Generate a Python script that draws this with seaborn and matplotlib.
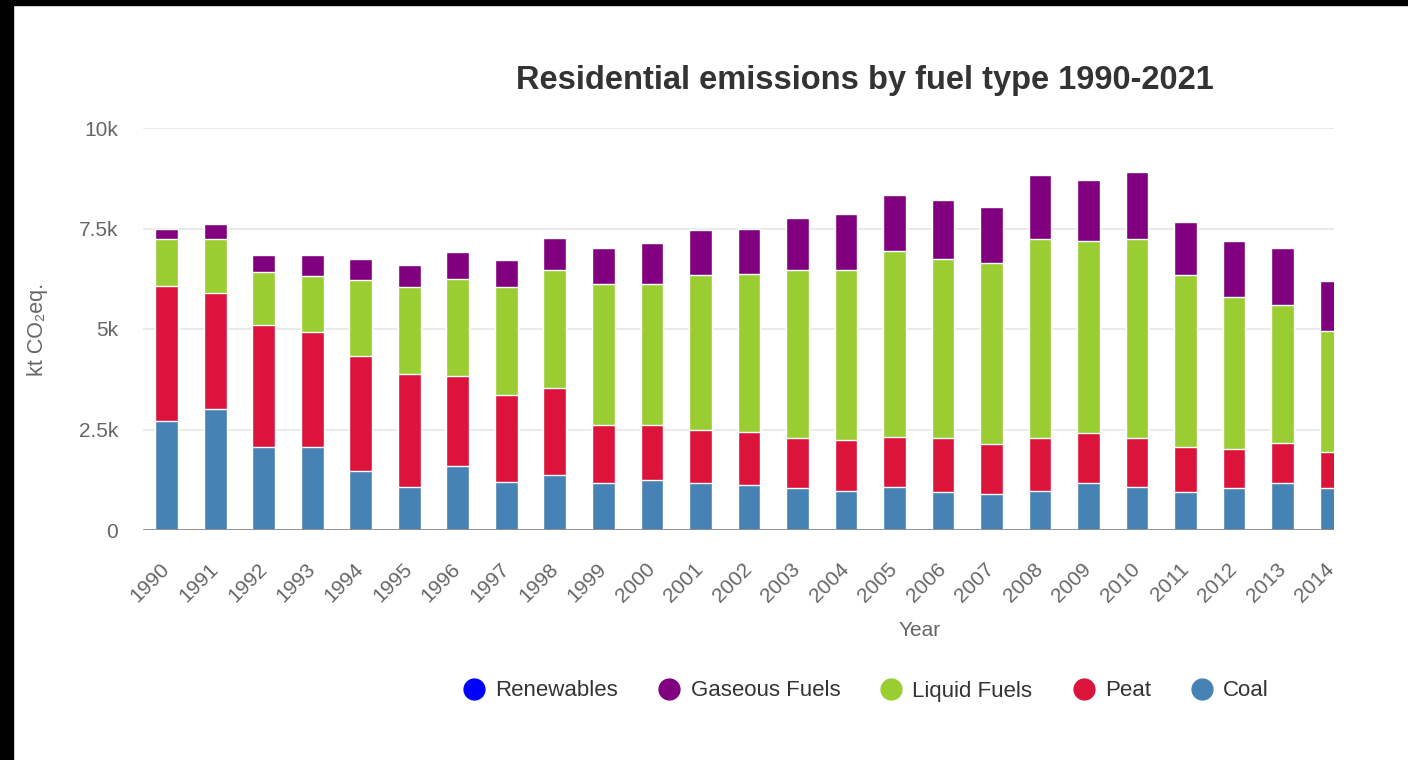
import numpy as np
import pandas as pd
import matplotlib
matplotlib.use("Agg")
import matplotlib.pyplot as plt
import seaborn as sns
from matplotlib.lines import Line2D
from matplotlib.patches import Rectangle

# =========================
# Data (kt CO2eq.)
# =========================
years = [str(y) for y in range(1990, 2015)]
coal = [2710, 3020, 2060, 2060, 1470, 1080, 1600, 1200, 1380, 1160, 1240, 1160, 1110,
        1040, 980, 1080, 940, 900, 980, 1160, 1080, 950, 1040, 1160, 1040]
peat = [3360, 2880, 3030, 2860, 2850, 2800, 2230, 2160, 2140, 1460, 1380, 1330, 1340,
        1240, 1260, 1240, 1340, 1240, 1300, 1260, 1200, 1120, 980, 1000, 910]
liquid = [1170, 1340, 1340, 1410, 1900, 2160, 2420, 2680, 2950, 3510, 3510, 3850, 3930,
          4190, 4230, 4630, 4450, 4510, 4960, 4780, 4960, 4270, 3770, 3440, 3010]
gaseous = [250, 370, 410, 510, 530, 540, 670, 670, 800, 880, 1000, 1130, 1100,
           1280, 1400, 1390, 1490, 1390, 1580, 1500, 1670, 1310, 1390, 1410, 1240]
renewables = [0] * 25

series_names = ["Coal", "Peat", "Liquid Fuels", "Gaseous Fuels", "Renewables"]
series_values = [coal, peat, liquid, gaseous, renewables]
colors = {"Renewables": "#0000FF", "Gaseous Fuels": "#800080",
          "Liquid Fuels": "#9ACD32", "Peat": "#DC143C", "Coal": "#4682B4"}

# cumulative tops, bottom-up stacking
df = pd.DataFrame(dict(zip(series_names, series_values)), index=years)
cum = df.cumsum(axis=1)

# =========================
# Plot
# =========================
sns.set_theme(style="white")
plt.rcParams["font.family"] = ["Liberation Sans", "DejaVu Sans"]

fig = plt.figure(figsize=(14.08, 7.6), dpi=100)
ax = fig.add_axes([143 / 1408, 1 - 530 / 760, (1334 - 143) / 1408, (530 - 128) / 760])

# draw tallest stack first so lower segments overlay it
for name in reversed(series_names):
    sns.barplot(x=years, y=cum[name].values, color=colors[name], width=0.47,
                edgecolor="white", linewidth=1, saturation=1, ax=ax, zorder=3)

ax.set_xlim(-0.49, 24.06)
ax.set_ylim(0, 10000)
ax.set_yticks([0, 2500, 5000, 7500, 10000])
ax.set_yticklabels(["0", "2.5k", "5k", "7.5k", "10k"])
ax.grid(axis="y", color="#e6e6e6", linewidth=1.2, zorder=0)
ax.axhline(0, color="#8c8c8c", linewidth=2, zorder=4)
sns.despine(ax=ax, left=True, bottom=True, top=True, right=True)

ax.tick_params(axis="y", length=0, pad=18, labelsize=15, labelcolor="#666666")
ax.tick_params(axis="x", length=0, pad=26, labelsize=15, labelcolor="#666666")
plt.setp(ax.get_xticklabels(), rotation=45, ha="right", va="center",
         rotation_mode="anchor")

ax.set_xlabel("")
ax.set_ylabel("kt CO\u2082eq.", fontsize=15.5, color="#666666")
ax.yaxis.set_label_coords((48 - 143) / 1191, 0.5)
fig.text(920 / 1408, 1 - 630 / 760, "Year", ha="center", va="center",
         fontsize=15, color="#666666")

fig.text(865 / 1408, 1 - 81 / 760, "Residential emissions by fuel type 1990-2021",
         ha="center", va="center", fontsize=23.5, fontweight="bold", color="#333333")

# legend
legend_order = ["Renewables", "Gaseous Fuels", "Liquid Fuels", "Peat", "Coal"]
handles = [Line2D([0], [0], marker="o", linestyle="", markersize=15,
                  markerfacecolor=colors[n], markeredgecolor=colors[n]) for n in legend_order]
leg = fig.legend(handles, legend_order, loc="center", ncol=5, frameon=False,
                 bbox_to_anchor=(866 / 1408, 1 - 691 / 760), fontsize=16,
                 handlelength=1.0, handletextpad=0.45, columnspacing=1.8)
for t in leg.get_texts():
    t.set_color("#333333")

# black frame strips of the screenshot
fig.patches.append(Rectangle((0, 1 - 5 / 760), 1, 5 / 760, transform=fig.transFigure,
                             color="black", zorder=10))
fig.patches.append(Rectangle((0, 0), 13 / 1408, 1, transform=fig.transFigure,
                             color="black", zorder=10))

fig.savefig("out.png", dpi=100, facecolor="white")
